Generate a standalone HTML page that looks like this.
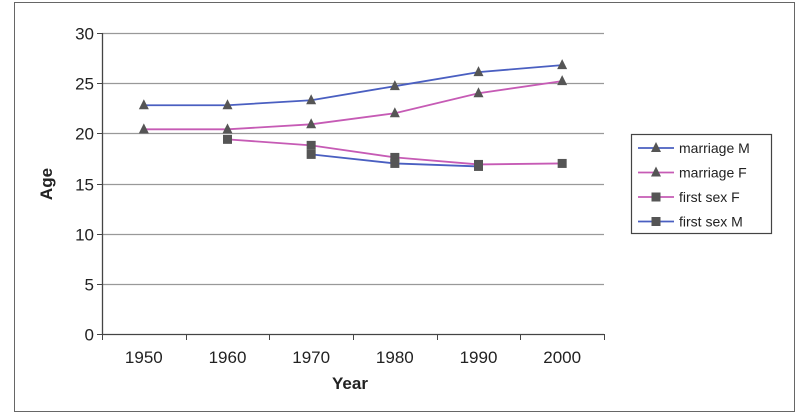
<!DOCTYPE html>
<html><head><meta charset="utf-8"><style>
html,body{margin:0;padding:0;background:#fff;}
svg{display:block;font-family:"Liberation Sans",Arial,sans-serif;}
</style></head><body>
<svg id="chart" width="800" height="413" viewBox="0 0 800 413">
<rect x="14.5" y="2.5" width="780" height="409" fill="#fff" stroke="#666" stroke-width="1"/>
<g id="grid"></g>
<g id="axes"></g>
<g id="series"></g>
<text x="350" y="389" font-size="17" font-weight="bold" text-anchor="middle" fill="#222">Year</text>
<text transform="translate(52,184) rotate(-90)" font-size="17" font-weight="bold" text-anchor="middle" fill="#222">Age</text>
<g id="legend">
<rect x="631.5" y="134.5" width="140" height="99" fill="#fff" stroke="#444" stroke-width="1.2"/>
</g>
</svg>
<script>
const categories=["1950","1960","1970","1980","1990","2000"];
const yTicks=[0,5,10,15,20,25,30];
const marriageM=[22.8,22.8,23.3,24.7,26.1,26.8];
const marriageF=[20.4,20.4,20.9,22.0,24.0,25.2];
const firstSexF=[null,19.4,18.8,17.6,16.9,17.0];
const firstSexM=[null,null,17.9,17.0,16.7,null];
const seriesNames=["marriage M","marriage F","first sex F","first sex M"];

const NS="http://www.w3.org/2000/svg";
const L=102,R=604,T=33,B=334;
const step=(R-L)/categories.length;
const xPos=i=>L+step*(i+0.5);
const yPos=v=>B-(v/30)*(B-T);
function mk(tag,attrs,parent){const e=document.createElementNS(NS,tag);for(const k in attrs)e.setAttribute(k,attrs[k]);parent.appendChild(e);return e;}
const grid=document.getElementById('grid'),axes=document.getElementById('axes'),ser=document.getElementById('series'),leg=document.getElementById('legend');
yTicks.forEach(v=>{
  const y=Math.round(yPos(v))+0.5;
  if(v>0){const g=mk('line',{x1:L,x2:R,y1:y,y2:y,stroke:'#999','stroke-width':1.3},grid);
  
  }
  const tk=mk('line',{x1:L-5,x2:L,y1:y,y2:y,stroke:'#444'},axes);
  
  
  const t=mk('text',{x:L-8,y:y+6,'font-size':17,'text-anchor':'end',fill:'#222'},axes);
  t.textContent=v;
  
  
});
const ya=mk('line',{x1:L+0.5,x2:L+0.5,y1:T,y2:B,stroke:'#444','stroke-width':1.3},axes);


const xa=mk('line',{x1:L,x2:R,y1:B+0.5,y2:B+0.5,stroke:'#444','stroke-width':1.3},axes);


for(let i=0;i<=categories.length;i++){
  const x=Math.round(L+step*i)+0.5;
  const tk=mk('line',{x1:x,x2:x,y1:B,y2:B+6,stroke:'#444'},axes);
  
  
}
categories.forEach((c,i)=>{
  const t=mk('text',{x:xPos(i),y:363,'font-size':17,'text-anchor':'middle',fill:'#222'},axes);
  t.textContent=c;
  
  
});
const BLUE='#4a5fc1',PINK='#c65bb5',MK='#555';
function tri(x,y,p){const e=mk('polygon',{points:`${x},${y-6} ${x-5},${y+4} ${x+5},${y+4}`,fill:MK},p);return e;}
function sq(x,y,p){const e=mk('rect',{x:x-4.5,y:y-4.5,width:9,height:9,fill:MK},p);return e;}
const defs=[[marriageM,BLUE,tri],[marriageF,PINK,tri],[firstSexF,PINK,sq],[firstSexM,BLUE,sq]];
defs.forEach(([data,col,mark],si)=>{
  const g=mk('g',{},ser);
  
  
  const pts=[];data.forEach((v,i)=>{if(v!=null)pts.push([xPos(i),yPos(v)]);});
  const pl=mk('polyline',{points:pts.map(p=>p.join(',')).join(' '),fill:'none',stroke:col,'stroke-width':1.8},g);
  
  
  pts.forEach(p=>{const m=mark(p[0],p[1],g);
    
    });
  const ly=148+si*24.5;
  const ll=mk('line',{x1:638,x2:674,y1:ly,y2:ly,stroke:col,'stroke-width':1.8},leg);
  
  
  const lm=mark(656,ly,leg);
  
  
  const lt=mk('text',{x:679,y:ly+5,'font-size':14,fill:'#222'},leg);
  lt.textContent=seriesNames[si];
  
  
});
</script>
</body></html>
